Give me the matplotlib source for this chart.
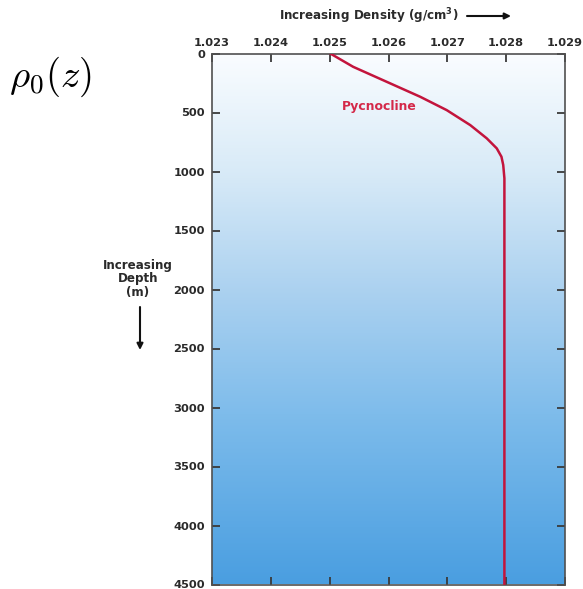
import numpy as np
import matplotlib
matplotlib.use("Agg")
import matplotlib.pyplot as plt
from matplotlib.colors import LinearSegmentedColormap

# Data
depth_m = [0, 113, 240, 367, 480, 607, 719, 804, 875, 945, 1058, 2000, 3000, 4500]
density = [1.02501, 1.02540, 1.02597, 1.02654, 1.02699, 1.02739, 1.02767, 1.02784,
           1.02792, 1.02795, 1.02797, 1.02797, 1.02797, 1.02797]
x_ticks = [1.023, 1.024, 1.025, 1.026, 1.027, 1.028, 1.029]
x_tick_labels = ["1.023", "1.024", "1.025", "1.026", "1.027", "1.028", "1.029"]
y_ticks = [0, 500, 1000, 1500, 2000, 2500, 3000, 3500, 4000, 4500]
y_tick_labels = [str(v) for v in y_ticks]
label_text = "Pycnocline"
label_pos = (1.025838, 446)

FONT = "DejaVu Sans"
TXT = "#2a2a2a"

fig = plt.figure(figsize=(5.83, 5.89), dpi=100)
fig.patch.set_facecolor("white")
ax = fig.add_axes([212 / 583, 4.5 / 589, 353 / 583, 531 / 589])

# background gradient (white at surface -> blue at depth)
cmap = LinearSegmentedColormap.from_list(
    "sea",
    [(0.0, (0.98, 0.99, 1.0)),
     (0.22, (0.85, 0.92, 0.97)),
     (0.45, (0.67, 0.82, 0.94)),
     (0.7, (0.48, 0.73, 0.92)),
     (1.0, (0.29, 0.62, 0.88))])
grad = np.linspace(0, 1, 256).reshape(-1, 1)
ax.imshow(grad, extent=[x_ticks[0], x_ticks[-1], y_ticks[-1], y_ticks[0]],
          aspect="auto", cmap=cmap, zorder=0, interpolation="bicubic")

ax.plot(density, depth_m, color="#c3143c", lw=1.8, zorder=3,
        solid_capstyle="round", solid_joinstyle="round")
ax.text(label_pos[0], label_pos[1], label_text, color="#d42848", fontsize=8.9,
        fontweight="bold", family=FONT, ha="center", va="center", zorder=4)

ax.set_xlim(x_ticks[0], x_ticks[-1])
ax.set_ylim(y_ticks[-1], y_ticks[0])
ax.set_xticks(x_ticks)
ax.set_xticklabels(x_tick_labels)
ax.set_yticks(y_ticks)
ax.set_yticklabels(y_tick_labels)
ax.xaxis.tick_top()
ax.tick_params(axis="x", which="both", top=True, bottom=True, labeltop=True,
               labelbottom=False, direction="in", length=6, width=1.3,
               color="#3a3a3a", pad=4)
ax.tick_params(axis="y", which="both", left=True, right=True, direction="in",
               length=6, width=1.3, color="#3a3a3a", pad=5)
for lab in ax.get_xticklabels() + ax.get_yticklabels():
    lab.set_family(FONT)
    lab.set_fontsize(8.2)
    lab.set_fontweight("bold")
    lab.set_color(TXT)
for sp in ax.spines.values():
    sp.set_color("#505050")
    sp.set_linewidth(1.2)

# top axis title with arrow
fig.text(369 / 583, 1 - 16 / 589, "Increasing Density (g/cm$^\\mathbf{3}$)", ha="center",
         va="center", fontsize=8.6, fontweight="bold", family=FONT, color=TXT)
fig.patches.append(matplotlib.patches.FancyArrowPatch(
    (467 / 583, 1 - 16 / 589), (511 / 583, 1 - 16 / 589),
    transform=fig.transFigure, arrowstyle="-|>", mutation_scale=9,
    color="#111111", lw=1.5, shrinkA=0, shrinkB=0))

# left depth label with arrow
fig.text(138 / 583, 1 - 279 / 589, "Increasing\nDepth\n(m)", ha="center",
         va="center", fontsize=8.6, fontweight="bold", family=FONT, color=TXT,
         linespacing=1.05)
fig.patches.append(matplotlib.patches.FancyArrowPatch(
    (140 / 583, 1 - 307 / 589), (140 / 583, 1 - 350 / 589),
    transform=fig.transFigure, arrowstyle="-|>", mutation_scale=9,
    color="#111111", lw=1.5, shrinkA=0, shrinkB=0))

# rho_0(z) label
plt.rcParams["mathtext.fontset"] = "cm"
fig.text(50 / 583, 1 - 77 / 589, r"$\rho_0(z)$", ha="center", va="center",
         fontsize=28, color="black")

fig.savefig("out.png", dpi=100)
